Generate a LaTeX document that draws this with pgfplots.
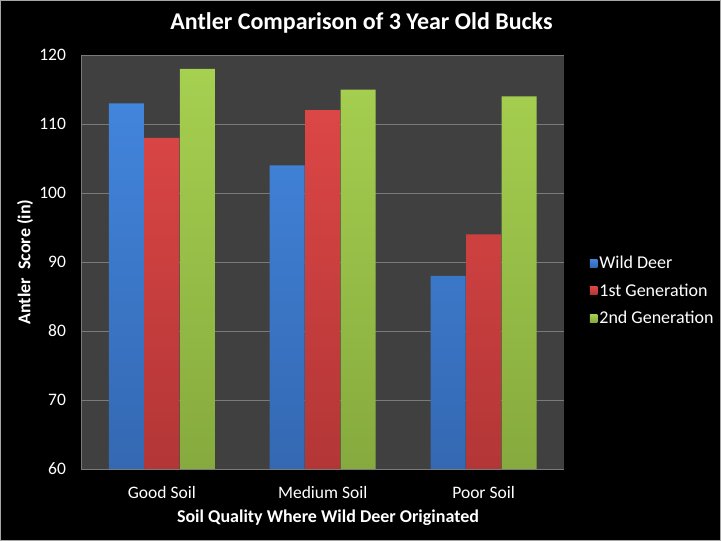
\documentclass[border=0pt]{standalone}
\usepackage{pgfplots}
\pgfplotsset{compat=1.18}
\usetikzlibrary{backgrounds}
\usepackage{fontspec}
\setmainfont{Carlito}
\definecolor{bgplot}{HTML}{404040}
\definecolor{gridc}{HTML}{7A7A7A}
\definecolor{cblue}{HTML}{4285DC}
\definecolor{cblueD}{HTML}{3468B2}
\definecolor{cred}{HTML}{DC4646}
\definecolor{credD}{HTML}{B33636}
\definecolor{cgreen}{HTML}{A6D050}
\definecolor{cgreenD}{HTML}{86AA3E}
\begin{document}
\begin{tikzpicture}
\begin{axis}[
  name=ax,
  at={(0pt,0pt)}, anchor=south west,
  scale only axis, width=482.5pt, height=414pt,
  xmin=-0.5, xmax=2.5, ymin=60, ymax=120,
  ytick={60,70,...,120},
  xtick={0,1,2},
  xticklabels={Good Soil, Medium Soil, Poor Soil},
  x tick label style={yshift=-14pt},
  y tick label style={xshift=-12pt},
  tick label style={text=white,font=\fontsize{17.5}{20}\selectfont},
  /pgf/number format/assume math mode=true,
  major tick length=0pt,
  ymajorgrids,
  grid style={gridc, line width=0.8pt},
  axis line style={gridc, line width=0.8pt},
  axis x line*=bottom, axis y line*=left,
  axis background/.style={fill=bgplot},
  ybar=0.5pt, bar width=35pt,
  legend style={at={(1.047,0.431)}, anchor=west, fill=none, draw=none,
    text=white, font=\fontsize{18}{21}\selectfont, row sep=9.5pt,
    legend cell align=left},
  legend image code/.code={\fill[#1] (-4pt,-4pt) rectangle (3.5pt,4pt);},
]
\addplot[draw=none, top color=cblue, bottom color=cblueD] coordinates {(0,113) (1,104) (2,88)};
\addplot[draw=none, top color=cred, bottom color=credD] coordinates {(0,108) (1,112) (2,94)};
\addplot[draw=none, top color=cgreen, bottom color=cgreenD] coordinates {(0,118) (1,115) (2,114)};
\legend{Wild Deer, 1st Generation, 2nd Generation}
\end{axis}
\begin{scope}[shift={(ax.south west)}, x=1pt, y=1pt]
\node[text=white,font=\bfseries\fontsize{24}{28}\selectfont] at (280,446) {Antler Comparison of 3 Year Old Bucks};
\node[text=white,font=\bfseries\fontsize{18}{21}\selectfont,rotate=90] at (-56.5,207) {Antler\ \ Score (in)};
\node[text=white,font=\bfseries\fontsize{18}{21}\selectfont] at (246.5,-49) {Soil Quality Where Wild Deer Originated};
\begin{scope}[on background layer]
\fill[black] (-81.5,-72) rectangle (639.5,469);
\draw[gray!70,line width=0.8pt] (-81.1,-71.6) rectangle (639.1,468.6);
\end{scope}
\pgfresetboundingbox
\path[use as bounding box] (-81.5,-72) rectangle (639.5,469);
\end{scope}
\end{tikzpicture}
\end{document}
